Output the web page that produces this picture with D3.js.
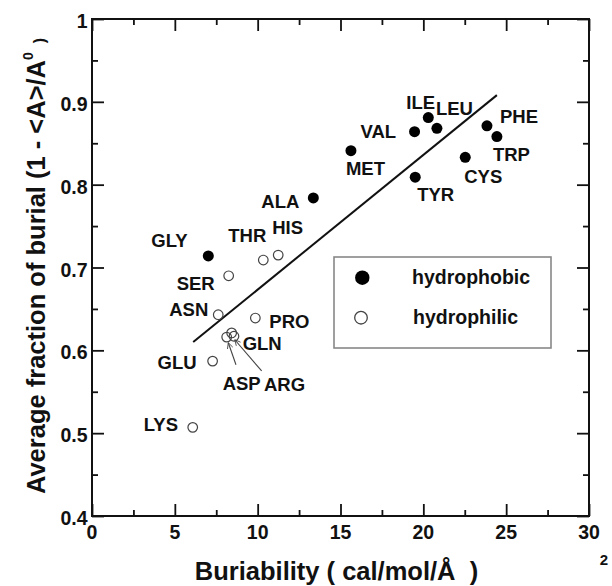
<!DOCTYPE html>
<html>
<head>
<meta charset="utf-8">
<script src="https://cdn.jsdelivr.net/npm/d3@7/dist/d3.min.js"></script>
<style>
  html, body { margin: 0; padding: 0; background: #fff; }
  svg { display: block; }
  text { font-family: "Liberation Sans", Arial, Helvetica, sans-serif; font-weight: bold; fill: #111; }
</style>
</head>
<body>
<svg id="chart" width="612" height="586"></svg>
<script>
// ---------------- DATA ----------------
const residues    = ["GLY","THR","HIS","SER","ALA","ILE","LEU","VAL","MET","TYR","CYS","PHE","TRP","ASN","PRO","GLN","GLU","ASP","ARG","LYS"];
const buriability = [7.02, 10.34, 11.24, 8.25, 13.36, 20.30, 20.82, 19.47, 15.63, 19.51, 22.53, 23.84, 24.44, 7.62, 9.86, 8.43, 7.28, 8.13, 8.57, 6.08];
const burialFrac  = [0.714, 0.709, 0.715, 0.690, 0.784, 0.881, 0.868, 0.864, 0.841, 0.809, 0.833, 0.871, 0.858, 0.643, 0.639, 0.621, 0.587, 0.616, 0.617, 0.507];
const residueType = ["hydrophobic","hydrophilic","hydrophilic","hydrophilic","hydrophobic","hydrophobic","hydrophobic","hydrophobic","hydrophobic","hydrophobic","hydrophobic","hydrophobic","hydrophobic","hydrophilic","hydrophilic","hydrophilic","hydrophilic","hydrophilic","hydrophilic","hydrophilic"];
const legendKeys  = ["hydrophobic","hydrophilic"];
// linear fit line
const fitSlope = 0.01626, fitIntercept = 0.5107, fitXStart = 6.11, fitXEnd = 24.44;
// ticks
const xMajorTicks = [0, 5, 10, 15, 20, 25, 30];
const xTickLabels = ["0", "5", "10", "15", "20", "25", "30"];
const xMinorTicks = [2.5, 7.5, 12.5, 17.5, 22.5, 27.5];
const yMajorTicks = [0.4, 0.5, 0.6, 0.7, 0.8, 0.9, 1.0];
const yTickLabels = ["0.4", "0.5", "0.6", "0.7", "0.8", "0.9", "1"];
const yMinorTicks = [0.45, 0.55, 0.65, 0.75, 0.85, 0.95];

// ---------------- LAYOUT ----------------
// label offsets (px) from each point: [dx to text start, dy to baseline]
const labelOffsets = {
  GLY:[-57,-9], THR:[-35,-18], HIS:[-6,-21], SER:[-52,14], ALA:[-52,10],
  ILE:[-22,-9], LEU:[-1,-13], VAL:[-54,6], MET:[-5,24], TYR:[2,24],
  CYS:[-1,26], PHE:[13,-3], TRP:[-4,24], ASN:[-49,1.5], PRO:[14,10],
  GLN:[11,17], GLU:[-55,8], ASP:[-4,53], ARG:[30,55], LYS:[-49,4]
};
// arrows from label to point: [tailDx, tailDy, headDx, headDy] relative to point
const arrowOffsets = { ASP:[9.3, 27.7, 1.6, 5.7], ARG:[27.7, 34.7, 0.8, 3.5] };

const M = { left: 92, right: 589, top: 19, bottom: 516 };
const svg = d3.select("#chart");

const x = d3.scaleLinear().domain([0, 30]).range([M.left, M.right]);
const y = d3.scaleLinear().domain([0.4, 1.0]).range([M.bottom, M.top]);

const defs = svg.append("defs");
defs.append("marker")
  .attr("id", "arrowhead").attr("viewBox", "0 0 10 10")
  .attr("refX", 9).attr("refY", 5)
  .attr("markerWidth", 7).attr("markerHeight", 7)
  .attr("markerUnits", "userSpaceOnUse")
  .attr("orient", "auto")
  .append("path").attr("d", "M1,1 L9,5 L1,9")
  .attr("fill", "none").attr("stroke", "#444").attr("stroke-width", 1.2);

// ticks (inward) on all four sides
function styleAxis(g) {
  g.select(".domain").remove();
  g.selectAll(".tick line").attr("stroke", "#111").attr("stroke-width", 1.8);
  g.selectAll(".tick text").remove();
}
const H = M.bottom - M.top, W = M.right - M.left;
svg.append("g").attr("transform", `translate(0,${M.bottom})`)
  .call(d3.axisBottom(x).tickValues(xMajorTicks).tickSize(-12)).call(styleAxis);
svg.append("g").attr("transform", `translate(0,${M.bottom})`)
  .call(d3.axisBottom(x).tickValues(xMinorTicks).tickSize(-6)).call(styleAxis);
svg.append("g").attr("transform", `translate(0,${M.top})`)
  .call(d3.axisTop(x).tickValues(xMajorTicks).tickSize(-12)).call(styleAxis);
svg.append("g").attr("transform", `translate(0,${M.top})`)
  .call(d3.axisTop(x).tickValues(xMinorTicks).tickSize(-6)).call(styleAxis);
svg.append("g").attr("transform", `translate(${M.left},0)`)
  .call(d3.axisLeft(y).tickValues(yMajorTicks).tickSize(-12)).call(styleAxis);
svg.append("g").attr("transform", `translate(${M.left},0)`)
  .call(d3.axisLeft(y).tickValues(yMinorTicks).tickSize(-6)).call(styleAxis);
svg.append("g").attr("transform", `translate(${M.right},0)`)
  .call(d3.axisRight(y).tickValues(yMajorTicks).tickSize(-12)).call(styleAxis);
svg.append("g").attr("transform", `translate(${M.right},0)`)
  .call(d3.axisRight(y).tickValues(yMinorTicks).tickSize(-6)).call(styleAxis);

// frame
svg.append("rect").attr("x", M.left).attr("y", M.top).attr("width", W).attr("height", H)
  .attr("fill", "none").attr("stroke", "#111").attr("stroke-width", 2);

// tick labels
svg.append("g").selectAll("text").data(xMajorTicks).join("text")
  .attr("x", d => x(d)).attr("y", M.bottom + 22.5)
  .attr("text-anchor", "middle").attr("font-size", 19.5)
  .text((d, i) => xTickLabels[i]);
svg.append("g").selectAll("text").data(yMajorTicks).join("text")
  .attr("x", M.left - 4.5).attr("y", d => y(d) + 9)
  .attr("text-anchor", "end").attr("font-size", 19.5)
  .text((d, i) => yTickLabels[i]);

// axis titles
svg.append("text")
  .attr("x", 336.5).attr("y", 580).attr("text-anchor", "middle")
  .attr("font-size", 25.5).style("white-space", "pre")
  .text("Buriability ( cal/mol/\u00C5  )");
svg.append("text")
  .attr("x", 604).attr("y", 565).attr("text-anchor", "middle")
  .attr("font-size", 15).text("2");

const yt = svg.append("text")
  .attr("transform", "translate(45,266) rotate(-90)")
  .attr("text-anchor", "middle").attr("font-size", 25.5)
  .style("white-space", "pre");
yt.append("tspan").text("Average fraction of burial (1 - <A>/A");
yt.append("tspan").attr("font-size", 14).attr("dy", -12).text("0");
yt.append("tspan").attr("font-size", 16).attr("dy", 12).text("  )");

// fit line
svg.append("line")
  .attr("x1", x(fitXStart)).attr("y1", y(fitIntercept + fitSlope * fitXStart))
  .attr("x2", x(fitXEnd)).attr("y2", y(fitIntercept + fitSlope * fitXEnd))
  .attr("stroke", "#111").attr("stroke-width", 2);

// points
const pts = residues.map((r, i) => ({ name: r, bx: buriability[i], by: burialFrac[i], type: residueType[i] }));

svg.append("g").selectAll("circle").data(pts).join("circle")
  .attr("cx", d => x(d.bx)).attr("cy", d => y(d.by))
  .attr("r", d => d.type === "hydrophobic" ? 5.5 : 4.8)
  .attr("fill", d => d.type === "hydrophobic" ? "#000" : "none")
  .attr("stroke", d => d.type === "hydrophobic" ? "none" : "#444")
  .attr("stroke-width", 1.2);

// arrows
svg.append("g").selectAll("line").data(pts.filter(d => arrowOffsets[d.name])).join("line")
  .attr("x1", d => x(d.bx) + arrowOffsets[d.name][0])
  .attr("y1", d => y(d.by) + arrowOffsets[d.name][1])
  .attr("x2", d => x(d.bx) + arrowOffsets[d.name][2])
  .attr("y2", d => y(d.by) + arrowOffsets[d.name][3])
  .attr("stroke", "#444").attr("stroke-width", 1.1)
  .attr("marker-end", "url(#arrowhead)");

// point labels
svg.append("g").selectAll("text").data(pts).join("text")
  .attr("x", d => x(d.bx) + labelOffsets[d.name][0])
  .attr("y", d => y(d.by) + labelOffsets[d.name][1])
  .attr("font-size", 18.5)
  .text(d => d.name);

// legend
const lg = svg.append("g");
lg.append("rect").attr("x", 334).attr("y", 257).attr("width", 217).attr("height", 91)
  .attr("fill", "#fff").attr("stroke", "#888").attr("stroke-width", 1.6);
const legendRows = lg.selectAll("g").data(legendKeys).join("g")
  .attr("transform", (d, i) => `translate(0,${i === 0 ? 277.7 : 317.7})`);
legendRows.append("circle")
  .attr("cx", (d, i) => i === 0 ? 362.3 : 361).attr("cy", 0)
  .attr("r", (d, i) => i === 0 ? 7.2 : 6.3)
  .attr("fill", (d, i) => i === 0 ? "#000" : "#fff")
  .attr("stroke", (d, i) => i === 0 ? "none" : "#444").attr("stroke-width", 1.3);
legendRows.append("text")
  .attr("x", (d, i) => i === 0 ? 412 : 413).attr("y", (d, i) => i === 0 ? 5.8 : 6.2)
  .attr("font-size", 19.5)
  .text(d => d);
</script>
</body>
</html>
